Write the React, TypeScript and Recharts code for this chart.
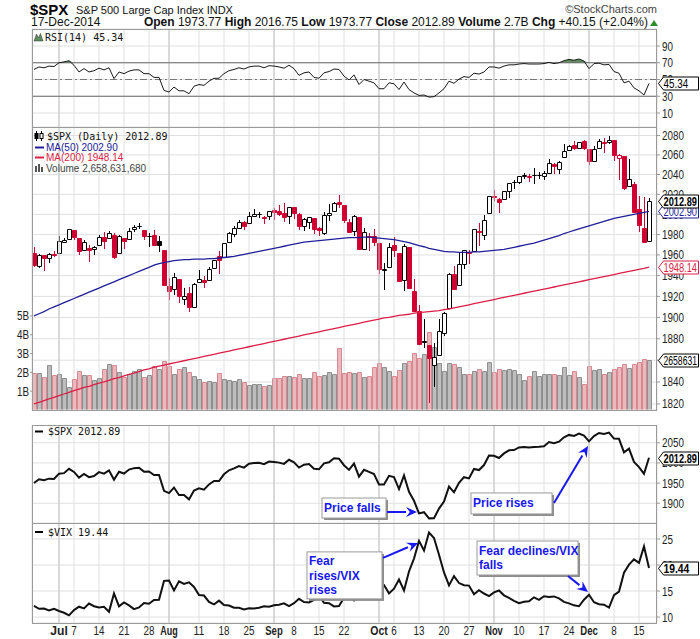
import React from 'react';
import {
  ComposedChart, Line, Bar, Area, XAxis, YAxis, CartesianGrid,
  ReferenceLine, ReferenceDot, Cell,
} from 'recharts';

// ---- data (24-Jun-2014 .. 17-Dec-2014) ----
const dates = [
  'Jun 24', 'Jun 25', 'Jun 26', 'Jun 27', 'Jun 30',
  'Jul 1', 'Jul 2', 'Jul 3', 'Jul 7', 'Jul 8', 'Jul 9', 'Jul 10', 'Jul 11', 'Jul 14', 'Jul 15', 'Jul 16',
  'Jul 17', 'Jul 18', 'Jul 21', 'Jul 22', 'Jul 23', 'Jul 24', 'Jul 25', 'Jul 28', 'Jul 29', 'Jul 30', 'Jul 31',
  'Aug 1', 'Aug 4', 'Aug 5', 'Aug 6', 'Aug 7', 'Aug 8', 'Aug 11', 'Aug 12', 'Aug 13', 'Aug 14', 'Aug 15',
  'Aug 18', 'Aug 19', 'Aug 20', 'Aug 21', 'Aug 22', 'Aug 25', 'Aug 26', 'Aug 27', 'Aug 28', 'Aug 29',
  'Sep 2', 'Sep 3', 'Sep 4', 'Sep 5', 'Sep 8', 'Sep 9', 'Sep 10', 'Sep 11', 'Sep 12', 'Sep 15', 'Sep 16',
  'Sep 17', 'Sep 18', 'Sep 19', 'Sep 22', 'Sep 23', 'Sep 24', 'Sep 25', 'Sep 26', 'Sep 29', 'Sep 30',
  'Oct 1', 'Oct 2', 'Oct 3', 'Oct 6', 'Oct 7', 'Oct 8', 'Oct 9', 'Oct 10', 'Oct 13', 'Oct 14', 'Oct 15',
  'Oct 16', 'Oct 17', 'Oct 20', 'Oct 21', 'Oct 22', 'Oct 23', 'Oct 24', 'Oct 27', 'Oct 28', 'Oct 29', 'Oct 30', 'Oct 31',
  'Nov 3', 'Nov 4', 'Nov 5', 'Nov 6', 'Nov 7', 'Nov 10', 'Nov 11', 'Nov 12', 'Nov 13', 'Nov 14', 'Nov 17',
  'Nov 18', 'Nov 19', 'Nov 20', 'Nov 21', 'Nov 24', 'Nov 25', 'Nov 26', 'Nov 28',
  'Dec 1', 'Dec 2', 'Dec 3', 'Dec 4', 'Dec 5', 'Dec 8', 'Dec 9', 'Dec 10', 'Dec 11', 'Dec 12', 'Dec 15', 'Dec 16', 'Dec 17',
];

const opens = [
  1961.97, 1949.27, 1959.89, 1956.56, 1960.79,
  1962.29, 1973.06, 1975.88, 1984.22, 1976.39, 1965.10, 1966.67, 1965.76, 1969.86, 1977.36, 1976.35, 1979.75, 1961.54, 1976.93, 1975.65, 1985.32, 1988.07, 1984.60, 1978.25, 1980.03, 1973.21, 1965.14,
  1929.80, 1926.62, 1936.34, 1917.29, 1923.03, 1910.35, 1933.43, 1935.73, 1935.60, 1947.41, 1958.87, 1958.36, 1972.73, 1980.46, 1986.82, 1992.60, 1991.74, 1998.59, 2000.54, 1997.42, 1998.45,
  2004.07, 2003.57, 2001.67, 1998.00, 2007.17, 2000.73, 1988.41, 1992.85, 1996.74, 1986.04, 1981.93, 1999.30, 2003.07, 2012.74, 2009.08, 1992.78, 1983.34, 1997.32, 1966.22, 1978.96, 1978.21,
  1971.44, 1945.83, 1948.12, 1970.01, 1962.36, 1935.55, 1967.68, 1925.63, 1905.65, 1877.11, 1874.18, 1855.95, 1864.91, 1885.62, 1909.38, 1941.29, 1931.02, 1951.59, 1962.97, 1964.14, 1983.29, 1979.49, 2001.20,
  2018.21, 2015.81, 2015.29, 2023.33, 2032.36, 2032.01, 2038.20, 2037.75, 2039.21, 2039.74, 2038.29, 2041.48, 2051.16, 2045.87, 2057.46, 2065.07, 2070.15, 2067.36, 2074.78,
  2065.78, 2053.77, 2067.45, 2073.64, 2072.78, 2074.84, 2056.55, 2058.86, 2027.92, 2030.36, 2005.03, 1986.71, 1973.77,
];

const highs = [
  1968.17, 1960.83, 1959.89, 1961.47, 1964.24,
  1978.58, 1976.67, 1985.59, 1984.22, 1976.39, 1974.15, 1969.84, 1968.67, 1979.85, 1982.52, 1983.94, 1981.80, 1979.91, 1976.93, 1986.24, 1989.23, 1991.39, 1984.60, 1981.52, 1984.85, 1978.90, 1965.14,
  1937.35, 1942.92, 1936.34, 1927.91, 1928.89, 1932.38, 1944.90, 1939.65, 1948.41, 1955.23, 1964.04, 1971.99, 1982.57, 1988.57, 1994.76, 1993.54, 2001.95, 2005.04, 2002.14, 1998.55, 2003.38,
  2006.12, 2009.28, 2011.17, 2007.71, 2007.17, 2001.01, 1996.66, 1997.65, 1996.74, 1987.18, 2002.28, 2010.74, 2012.34, 2019.26, 2009.08, 1995.41, 1999.79, 1997.32, 1986.37, 1981.28, 1985.17,
  1971.44, 1952.32, 1971.19, 1977.84, 1962.36, 1970.36, 1967.68, 1936.98, 1912.09, 1898.71, 1874.18, 1876.01, 1898.16, 1905.03, 1942.45, 1949.31, 1961.95, 1965.27, 1964.64, 1985.05, 1991.40, 1999.40, 2018.19,
  2024.46, 2015.98, 2023.77, 2031.61, 2034.26, 2038.70, 2041.28, 2040.33, 2046.18, 2042.22, 2043.07, 2056.08, 2052.14, 2053.84, 2071.46, 2070.17, 2074.21, 2073.29, 2075.76,
  2065.78, 2068.77, 2076.28, 2077.34, 2079.47, 2075.78, 2060.60, 2058.86, 2055.53, 2032.25, 2018.69, 2016.89, 2016.75,
];

const lows = [
  1948.34, 1947.49, 1944.69, 1952.18, 1958.22,
  1962.29, 1972.58, 1975.88, 1974.88, 1959.46, 1965.10, 1952.86, 1959.63, 1969.86, 1965.34, 1975.67, 1955.59, 1960.82, 1965.77, 1975.65, 1982.44, 1985.79, 1974.37, 1967.31, 1969.95, 1962.42, 1930.67,
  1916.37, 1921.20, 1913.77, 1911.45, 1904.78, 1909.01, 1933.43, 1928.29, 1935.60, 1947.41, 1941.50, 1958.36, 1972.73, 1977.68, 1986.82, 1984.76, 1991.74, 1998.59, 1996.20, 1990.52, 1994.65,
  1994.85, 1998.14, 1992.54, 1990.10, 1995.60, 1984.61, 1982.99, 1985.93, 1980.26, 1978.48, 1979.06, 1993.29, 2003.07, 2006.59, 1991.01, 1982.77, 1978.63, 1965.99, 1966.22, 1964.04, 1968.96,
  1941.72, 1926.03, 1948.12, 1958.43, 1935.10, 1925.25, 1927.56, 1906.05, 1874.14, 1871.79, 1820.66, 1835.02, 1864.91, 1882.30, 1909.38, 1926.83, 1931.02, 1946.27, 1951.37, 1964.14, 1969.04, 1974.75, 2001.20,
  2013.68, 2001.01, 2014.26, 2015.86, 2025.07, 2030.17, 2035.28, 2031.95, 2030.44, 2035.20, 2034.46, 2041.48, 2040.37, 2040.49, 2056.75, 2065.07, 2064.75, 2066.62, 2065.06,
  2049.57, 2053.77, 2066.65, 2062.34, 2070.81, 2054.27, 2034.17, 2024.26, 2027.92, 2002.33, 1982.26, 1972.56, 1973.77,
];

const closes = [
  1949.98, 1959.53, 1957.22, 1960.96, 1960.23,
  1973.32, 1974.62, 1985.44, 1977.65, 1963.71, 1972.83, 1964.68, 1967.57, 1977.10, 1973.28, 1981.57, 1958.12, 1978.22, 1973.63, 1983.53, 1987.01, 1987.98, 1978.34, 1978.91, 1969.95, 1970.07, 1930.67,
  1925.15, 1938.99, 1920.21, 1920.24, 1909.57, 1931.59, 1936.92, 1933.75, 1946.72, 1955.18, 1955.06, 1971.74, 1981.60, 1986.51, 1992.37, 1988.40, 1997.92, 2000.02, 2000.12, 1996.74, 2003.37,
  2002.28, 2000.72, 1997.65, 2007.71, 2001.54, 1988.44, 1995.69, 1997.45, 1985.54, 1984.13, 1998.98, 2001.57, 2011.36, 2010.40, 1994.29, 1982.77, 1998.30, 1965.99, 1982.85, 1977.80, 1972.29,
  1946.16, 1946.17, 1967.90, 1964.82, 1935.10, 1968.89, 1928.21, 1906.13, 1874.74, 1877.70, 1862.49, 1862.76, 1886.76, 1904.01, 1941.28, 1927.11, 1950.82, 1964.58, 1961.63, 1985.05, 1982.30, 1994.65, 2018.05,
  2017.81, 2012.10, 2023.57, 2031.21, 2031.92, 2038.26, 2039.68, 2038.25, 2039.33, 2039.82, 2041.32, 2051.80, 2048.72, 2052.75, 2063.50, 2069.41, 2067.03, 2072.83, 2067.56,
  2053.44, 2066.55, 2074.33, 2071.92, 2075.37, 2060.31, 2059.82, 2026.14, 2035.33, 2002.33, 1989.63, 1972.74, 2012.89,
];
const prevClose = 1962.61; // 23-Jun close, colours the first candle

// volume, billions of shares
const volumes = [
  1.98, 1.95, 1.74, 2.38, 1.85,
  1.9, 1.69, 1.21, 1.63, 2.07, 1.85, 1.85, 1.6, 1.69, 2.16, 2.43, 2.38, 2.04, 1.77, 1.91, 2.09, 2.16, 1.74, 1.86, 2.34, 2.18, 2.59,
  2.34, 1.91, 2.18, 2.29, 2.02, 1.81, 1.63, 1.5, 1.56, 1.49, 1.95, 1.65, 1.6, 1.54, 1.63, 1.49, 1.31, 1.37, 1.37, 1.28, 1.33,
  1.69, 1.69, 1.81, 1.8, 1.76, 1.91, 1.72, 1.69, 2.04, 1.81, 1.86, 2.02, 1.91, 3.28, 1.95, 2.02, 1.95, 2.0, 1.74, 1.8, 2.27,
  2.5, 2.3, 2.07, 1.82, 2.15, 2.5, 2.6, 3.05, 2.74, 2.99, 4.13, 3.37, 2.5, 2.1, 2.5, 2.45, 2.3, 1.9, 1.9, 2.1, 2.2, 2.1, 2.55,
  2.0, 2.2, 2.15, 2.2, 2.15, 1.9, 1.6, 1.82, 2.07, 1.8, 1.9, 1.9, 1.9, 1.85, 2.27, 1.85, 2.07, 1.74, 1.4,
  2.34, 2.15, 2.2, 1.9, 2.0, 2.16, 2.27, 2.45, 2.22, 2.45, 2.57, 2.71, 2.6586,
];

const ma50 = [
  1901.5, 1903.5, 1905.5, 1908, 1910,
  1912, 1914, 1916, 1918, 1920, 1922, 1924, 1926, 1928, 1930, 1932, 1934, 1936, 1938, 1940, 1942, 1944, 1946, 1948, 1950, 1951.5, 1952.5,
  1953.5, 1954.5, 1955, 1955.5, 1955.5, 1956, 1956, 1956, 1956.5, 1956.5, 1957, 1957.5, 1958, 1958.5, 1959.5, 1960.5, 1961.5, 1962.5, 1963.5, 1964.5, 1965.5,
  1966.5, 1967.5, 1968.5, 1969.5, 1970.5, 1971.5, 1972.5, 1973, 1973.5, 1974, 1974.5, 1975, 1975.5, 1976, 1976.5, 1977, 1977, 1977, 1977.5, 1977.5, 1977,
  1976.5, 1976, 1975.5, 1975, 1974, 1973, 1972, 1970.5, 1969, 1968, 1966.5, 1965.5, 1964.5, 1963.5, 1963, 1963, 1962.5, 1962.5, 1962.5, 1963, 1963, 1963.5, 1964,
  1964.5, 1965, 1965.5, 1966.5, 1967.5, 1968.5, 1969.5, 1970.5, 1971.5, 1973, 1974.5, 1976, 1977.5, 1979, 1981, 1982.5, 1984, 1985.5, 1987,
  1988.5, 1990, 1991.5, 1993, 1994.5, 1996, 1997, 1998, 1999, 2000, 2001, 2002, 2002.90,
];

const ma200 = [
  1820, 1821.5, 1823, 1824.5, 1826,
  1827.5, 1829, 1830.5, 1832, 1833.5, 1835, 1836, 1837.5, 1839, 1840, 1841.5, 1843, 1844, 1845.5, 1847, 1848, 1849.5, 1851, 1852, 1853.5, 1854.5, 1855.5,
  1856.5, 1857.5, 1858.5, 1859.5, 1860.5, 1861.5, 1862.5, 1863.5, 1864.5, 1865.5, 1866.5, 1867.5, 1868.5, 1869.5, 1870.5, 1871.5, 1872.5, 1873.5, 1874.5, 1875.5, 1876.5,
  1877.5, 1878.5, 1879.5, 1880.5, 1881.5, 1882.5, 1883.5, 1884.5, 1885.5, 1886.5, 1887.5, 1888.5, 1889.5, 1890.5, 1891.5, 1892.5, 1893.5, 1894.5, 1895.5, 1896.5, 1897.5,
  1898.5, 1899.5, 1900, 1901, 1902, 1902.5, 1903, 1904, 1904.5, 1905, 1905.5, 1906, 1906.5, 1907.5, 1908, 1909, 1910, 1911, 1912, 1913, 1914, 1915, 1916,
  1917, 1918, 1919, 1920, 1921, 1922, 1923, 1924, 1925, 1926, 1927, 1928, 1929, 1930, 1931, 1932, 1933, 1934, 1935,
  1936, 1937, 1938, 1939, 1940, 1941, 1942, 1943, 1944, 1945, 1946, 1947, 1948.14,
];

const rsi14 = [
  62, 65, 64, 66, 65.5,
  70, 71, 72.5, 67, 59, 63, 59, 60.5, 63.5, 61.5, 64, 51, 59, 57, 60, 61.5, 61.5, 57, 57, 52.5, 52.5, 37,
  35, 41, 36.5, 36.5, 33, 42, 44, 43, 48, 51.5, 51.5, 57, 60.5, 62, 64, 62.5, 65, 66, 66, 64, 66.5,
  66, 65, 63.5, 67, 63, 55, 58, 59, 52.5, 51.5, 58, 59.5, 62.5, 62, 54, 49.5, 55.5, 44, 50, 48, 46,
  39, 39, 46, 45, 38, 47, 38, 34, 31, 31.5, 29, 29.5, 34, 39, 48, 45.5, 50.5, 53.5, 52.5, 57.5, 56.5, 59, 65,
  65, 63.5, 66, 67.5, 67.5, 68.5, 69, 68.5, 68.5, 68.5, 69, 70.5, 69, 70, 72.5, 74, 73, 74.5, 72,
  63, 69, 69.5, 67.5, 68, 59.5, 57.5, 46, 48, 40, 36.5, 31.5, 45.34,
];

const vix = [
  12.13, 11.59, 11.63, 11.26, 11.57,
  11.15, 10.82, 10.32, 11.33, 11.98, 11.65, 12.59, 12.08, 11.82, 11.96, 11.00, 14.54, 12.06, 12.81, 12.24, 11.52, 11.84, 12.69, 12.56, 13.28, 13.33, 16.95,
  17.03, 15.12, 16.87, 16.37, 16.66, 15.77, 14.23, 14.13, 12.90, 12.42, 13.15, 12.32, 12.21, 11.78, 11.76, 11.47, 11.70, 11.63, 11.78, 12.05, 11.98,
  12.25, 12.36, 12.64, 12.09, 12.66, 13.50, 12.88, 12.80, 13.31, 14.12, 12.73, 12.65, 12.03, 12.11, 13.69, 14.93, 13.27, 15.64, 14.85, 15.98, 16.31,
  16.71, 16.16, 14.55, 15.46, 17.20, 15.11, 18.76, 21.24, 24.64, 22.79, 26.25, 25.20, 21.99, 18.57, 16.08, 17.87, 16.53, 16.11, 16.04, 14.39, 15.15, 14.52, 14.03,
  14.73, 15.10, 14.17, 13.67, 13.12, 12.67, 12.92, 13.02, 13.79, 13.31, 13.99, 13.86, 13.96, 13.58, 12.90, 12.62, 12.25, 12.07, 13.33,
  14.29, 12.85, 12.47, 12.38, 11.82, 14.21, 14.89, 18.53, 20.08, 21.08, 20.42, 23.57, 19.44,
];

// x-axis ticks (index into the arrays above)
const tickDays = [5, 8, 13, 18, 23, 27, 33, 38, 43, 48, 52, 57, 62, 69, 72, 77, 82, 87, 92, 97, 102, 107, 111, 116, 121];
const tickLabels = ['Jul', '7', '14', '21', '28', 'Aug', '11', '18', '25', 'Sep', '8', '15', '22', 'Oct', '6', '13', '20', '27', 'Nov', '10', '17', '24', 'Dec', '8', '15'];
const monthDays = [5, 27, 48, 69, 92, 111];

const priceTicks = [1820, 1840, 1860, 1880, 1900, 1920, 1940, 1960, 1980, 2000, 2020, 2040, 2060, 2080];
const volTicks = [1, 2, 3, 4, 5];
const rsiTicks = [10, 30, 50, 70, 90];
const spxTicks = [1900, 1950, 2000, 2050];
const vixTicks = [10, 15, 20, 25];

// annotation anchors
const fallDay = 77; // 13-Oct
const riseDay = 111; // 1-Dec

const rows = closes.map((c, k) => ({
  k,
  date: dates[k],
  open: opens[k],
  high: highs[k],
  low: lows[k],
  close: c,
  vol: volumes[k],
  ma50: ma50[k],
  ma200: ma200[k],
  rsi: rsi14[k],
  vix: vix[k],
  up: c >= (k === 0 ? prevClose : closes[k - 1]),
}));
const last = rows[rows.length - 1];

// ---- styles ----
const X_DOMAIN: [number, number] = [-0.4, 124.6];
const AX = "'Liberation Sans', Arial, sans-serif";
const SANS = "'Liberation Sans', Arial, sans-serif";
const MONO = "'DejaVu Sans Mono', monospace";
const RED = '#d10032';
const NAVY = '#20209a';
const MA_RED = '#dc1e46';
const GRID = '#e0e0e0';
const MONTH = '#c4c4c4';
const BORDER = '#9a9a9a';
const BLUE = '#1818f0';

// the chart's axis font is a narrow face; squeeze Liberation Sans to that width
const narrowWidth = (s: string, size: number, bold = false) => {
  let w = 0;
  for (const ch of s) {
    if (/[0-9]/.test(ch)) w += 0.456;
    else if ('.,: '.includes(ch)) w += 0.228;
    else if (/[A-Z]/.test(ch)) w += 0.55;
    else if (/[a-z]/.test(ch)) w += 0.42;
    else w += 0.35;
  }
  return w * size * (bold ? 1.05 : 1);
};

const NText = ({ x, y, s, size = 12, bold = false, fill = '#222', anchor = 'start', maxW = 999 }: any) => (
  <text x={x} y={y} fontSize={size} fontFamily={AX} fill={fill} fontWeight={bold ? 'bold' : 'normal'}
    textAnchor={anchor} textLength={Math.min(maxW, narrowWidth(s, size, bold))} lengthAdjust="spacingAndGlyphs">
    {s}
  </text>
);

const RightTick = (p: any) => <NText x={p.x} y={p.y + 4.5} s={String(p.payload.value)} />;
const LeftTick = (p: any) => <NText x={p.x} y={p.y + 4.5} s={`${p.payload.value}B`} anchor="end" />;
const BottomTick = (p: any) => {
  const idx = tickDays.indexOf(p.payload.value);
  const bold = monthDays.includes(p.payload.value);
  return <NText x={p.x} y={p.y + 12} s={tickLabels[idx]} bold={bold} anchor="middle" />;
};

const Candle = (props: any) => {
  const { x, y, width, height, payload } = props;
  if (x == null || !payload) return null;
  const { open, high, low, close, up } = payload;
  const lh = Math.log(high);
  const ll = Math.log(low);
  const py = (v: number) => y + ((lh - Math.log(v)) / (lh - ll)) * height;
  const color = up ? '#000' : RED;
  const c = Math.round(x + width / 2);
  const t = Math.round(py(Math.max(open, close))) + 0.5;
  const b = Math.round(py(Math.min(open, close))) + 0.5;
  const hollow = close >= open;
  return (
    <g>
      <line x1={c + 0.5} x2={c + 0.5} y1={Math.round(y)} y2={Math.round(y + height)} stroke={color} strokeWidth={1} />
      <path d={`M${c - 1.5},${t}H${c + 2.5}V${b}H${c - 1.5}Z`} fill={hollow ? '#fff' : color} stroke={color} strokeWidth={1} />
    </g>
  );
};

const VolBar = (props: any) => {
  const { x, y, width, height, payload } = props;
  if (x == null || !payload) return null;
  const c = Math.round(x + width / 2);
  const top = Math.round(y) + 0.5;
  const bot = Math.round(y + height) - 0.5;
  return (
    <path
      d={`M${c - 1.5},${bot}V${top}H${c + 2.5}V${bot}`}
      fill={payload.up ? '#bdbdbd' : '#e9b9be'}
      stroke={payload.up ? '#8f8f8f' : '#d98892'}
      strokeWidth={1}
    />
  );
};

const tag = (text: string, color: string, bold: boolean) => (p: any) => {
  const vb = p.viewBox || {};
  const x0 = Math.round((vb.x || 0) + (vb.width || 0) / 2) + 1.5;
  const y = Math.round((vb.y || 0) + (vb.height || 0) / 2) + 0.5;
  return (
    <g>
      <path d={`M${x0},${y}L${x0 + 5},${y - 6.5}H${x0 + 40}V${y + 6.5}H${x0 + 5}Z`} fill="#fff" stroke={color} strokeWidth={1} />
      <NText x={x0 + 5} y={y + 4.5} s={text} bold={bold} fill={color} size={12} maxW={33.5} />
    </g>
  );
};

type CalloutSpec = {
  box: [number, number, number, number];
  lines: { t: string; dy: number }[];
  tx: number;
  from: [number, number];
  tip: [number, number];
};

const callout = (s: CalloutSpec) => (p: any) => {
  const { cx, cy } = p;
  if (cx == null) return null;
  const [x1, y1, x2, y2] = s.box;
  const ax = cx + s.from[0];
  const ay = cy + s.from[1];
  const bx = cx + s.tip[0];
  const by = cy + s.tip[1];
  const ang = Math.atan2(by - ay, bx - ax);
  const hl = 11;
  const hw = 5;
  const baseX = bx - hl * Math.cos(ang);
  const baseY = by - hl * Math.sin(ang);
  const px = -Math.sin(ang) * hw;
  const py = Math.cos(ang) * hw;
  return (
    <g>
      <rect x={cx + x1 + 2} y={cy + y1 + 2} width={x2 - x1} height={y2 - y1} fill="#8c8c8c" />
      <rect x={cx + x1} y={cy + y1} width={x2 - x1} height={y2 - y1} fill="#fff" stroke="#9a9a9a" strokeWidth={1} />
      {s.lines.map((l) => (
        <text key={l.t} x={cx + s.tx} y={cy + l.dy} fontSize={12} fontFamily={SANS} fontWeight="bold" fill={BLUE}>{l.t}</text>
      ))}
      <line x1={ax} y1={ay} x2={baseX} y2={baseY} stroke={BLUE} strokeWidth={2} />
      <path d={`M${bx},${by}L${baseX + px},${baseY + py}L${baseX + 0.35 * hl * Math.cos(ang)},${baseY + 0.35 * hl * Math.sin(ang)}L${baseX - px},${baseY - py}Z`} fill={BLUE} />
    </g>
  );
};

const monthLines = (xId: any, yId: any) =>
  monthDays.map((m) => <ReferenceLine key={`m${m}`} x={m} xAxisId={xId} yAxisId={yId} stroke={MONTH} />);

const fmtVol = (v: number) => Math.round(v * 1e9).toLocaleString('en-US');

const TagDot = (props: any) => (
  <ReferenceDot r={0} fill="none" stroke="none" ifOverflow="visible" zIndex={2000} {...props} />
);

export default function App() {
  return (
    <div style={{ position: 'absolute', left: 0, top: 0, width: 700, height: 639, background: '#fff', overflow: 'hidden' }}>
      {/* RSI */}
      <div style={{ position: 'absolute', left: 0, top: 28 }}>
        <ComposedChart width={700} height={100} data={rows} margin={{ top: 1, right: 0, bottom: 1, left: 32 }}>
          <XAxis dataKey="k" type="number" domain={X_DOMAIN} ticks={tickDays} interval={0} hide allowDataOverflow />
          <YAxis yAxisId="r" orientation="right" width={43} domain={[-6.7, 110.3]} ticks={rsiTicks} interval={0}
            allowDataOverflow axisLine={false} tickSize={3} tickLine={{ stroke: '#999' }} tick={<RightTick />} />
          <CartesianGrid yAxisId="r" stroke={GRID} />
          {monthLines(0, 'r')}
          <ReferenceLine yAxisId="r" y={70} stroke="#6a6a6a" />
          <ReferenceLine yAxisId="r" y={30} stroke="#6a6a6a" />
          <ReferenceLine yAxisId="r" y={50} stroke="#777" strokeDasharray="7 3 2 3" />
          <Area yAxisId="r" dataKey={(d: any) => [70, Math.max(70, d.rsi)]} fill="#5e8e5e" fillOpacity={1} stroke="none" isAnimationActive={false} />
          <Line yAxisId="r" dataKey="rsi" stroke="#1a1a1a" strokeWidth={1} dot={false} isAnimationActive={false} />
          {TagDot({ yAxisId: 'r', x: X_DOMAIN[1], y: last.rsi, label: tag(last.rsi.toFixed(2), '#000', false) })}
        </ComposedChart>
      </div>

      {/* price + volume */}
      <div style={{ position: 'absolute', left: 0, top: 127 }}>
        <ComposedChart width={700} height={298} data={rows} margin={{ top: 0, right: 0, bottom: 0, left: 0 }}>
          <XAxis xAxisId="x" dataKey="k" type="number" domain={X_DOMAIN} ticks={tickDays} interval={0} height={15}
            tickSize={0} tickMargin={0} axisLine={false} tickLine={false} tick={<BottomTick />} allowDataOverflow />
          <XAxis xAxisId="c" dataKey="k" type="number" domain={X_DOMAIN} hide allowDataOverflow />
          <YAxis yAxisId="vol" orientation="left" width={32} domain={[0, 15.05]} ticks={volTicks} interval={0}
            allowDataOverflow axisLine={false} tickSize={2} tickMargin={1} tickLine={{ stroke: '#999' }} tick={<LeftTick />} />
          <YAxis yAxisId="p" orientation="right" width={43} scale="log" domain={[1814.5, 2088.8]} ticks={priceTicks} interval={0}
            allowDataOverflow axisLine={false} tickSize={3} tickLine={{ stroke: '#999' }} tick={<RightTick />} />
          <CartesianGrid xAxisId="x" yAxisId="p" stroke={GRID} />
          {monthLines('x', 'p')}
          <Bar xAxisId="x" yAxisId="vol" dataKey="vol" barSize={5} shape={VolBar} isAnimationActive={false}>
            {rows.map((r) => <Cell key={r.k} fill={r.up ? '#bdbdbd' : '#e9b9be'} />)}
          </Bar>
          <Line xAxisId="x" yAxisId="p" dataKey="ma200" stroke={MA_RED} strokeWidth={1.3} dot={false} isAnimationActive={false} />
          <Bar xAxisId="c" yAxisId="p" dataKey={(d: any) => [d.low, d.high]} barSize={5} shape={Candle} isAnimationActive={false} />
          <Line xAxisId="x" yAxisId="p" dataKey="ma50" stroke={NAVY} strokeWidth={1.3} dot={false} isAnimationActive={false} />
          {TagDot({ xAxisId: 'x', yAxisId: 'p', x: X_DOMAIN[1], y: last.ma200, label: tag(last.ma200.toFixed(2), MA_RED, false) })}
          {TagDot({ xAxisId: 'x', yAxisId: 'vol', x: X_DOMAIN[1], y: last.vol, label: tag('2658631', '#000', false) })}
          {TagDot({ xAxisId: 'x', yAxisId: 'p', x: X_DOMAIN[1], y: last.ma50, label: tag(last.ma50.toFixed(2), NAVY, false) })}
          {TagDot({ xAxisId: 'x', yAxisId: 'p', x: X_DOMAIN[1], y: last.close, label: tag(last.close.toFixed(2), '#000', true) })}
        </ComposedChart>
      </div>

      {/* $SPX close line */}
      <div style={{ position: 'absolute', left: 0, top: 425 }}>
        <ComposedChart width={700} height={98} data={rows} margin={{ top: 0, right: 0, bottom: 0, left: 32 }}>
          <XAxis dataKey="k" type="number" domain={X_DOMAIN} ticks={tickDays} interval={0} hide allowDataOverflow />
          <YAxis yAxisId="s" orientation="right" width={43} domain={[1851, 2094]} ticks={spxTicks} interval={0}
            allowDataOverflow axisLine={false} tickSize={3} tickLine={{ stroke: '#999' }} tick={<RightTick />} />
          <CartesianGrid yAxisId="s" stroke={GRID} />
          {monthLines(0, 's')}
          <Line yAxisId="s" dataKey="close" stroke="#111" strokeWidth={2} dot={false} isAnimationActive={false} />
          <ReferenceDot yAxisId="s" x={fallDay} y={closes[fallDay]} r={0} ifOverflow="visible"
            shape={callout({ box: [-97, -15.4, -33, 4.6], lines: [{ t: 'Price falls', dy: -1.5 }], tx: -95, from: [-32, -1.4], tip: [-2, -1.4] })} />
          <ReferenceDot yAxisId="s" x={riseDay} y={closes[riseDay]} r={0} ifOverflow="visible"
            shape={callout({ box: [-118, 51.6, -37, 72.6], lines: [{ t: 'Price rises', dy: 66 }], tx: -116, from: [-35, 61.6], tip: [-1, 4.6] })} />
          {TagDot({ yAxisId: 's', x: X_DOMAIN[1], y: last.close, label: tag(last.close.toFixed(2), '#000', true) })}
        </ComposedChart>
      </div>

      {/* $VIX */}
      <div style={{ position: 'absolute', left: 0, top: 523 }}>
        <ComposedChart width={700} height={116} data={rows} margin={{ top: 0, right: 0, bottom: 0, left: 32 }}>
          <XAxis dataKey="k" type="number" domain={X_DOMAIN} ticks={tickDays} interval={0} height={16}
            tickSize={0} tickMargin={0} axisLine={false} tickLine={false} tick={<BottomTick />} allowDataOverflow />
          <YAxis yAxisId="v" orientation="right" width={43} domain={[8.85, 28.08]} ticks={vixTicks} interval={0}
            allowDataOverflow axisLine={false} tickSize={3} tickLine={{ stroke: '#999' }} tick={<RightTick />} />
          <CartesianGrid yAxisId="v" stroke={GRID} />
          {monthLines(0, 'v')}
          <Line yAxisId="v" dataKey="vix" stroke="#111" strokeWidth={2} dot={false} isAnimationActive={false} />
          <ReferenceDot yAxisId="v" x={fallDay} y={vix[fallDay]} r={0} ifOverflow="visible"
            shape={callout({ box: [-112, 11, -37, 58], lines: [{ t: 'Fear', dy: 24 }, { t: 'rises/VIX', dy: 39 }, { t: 'rises', dy: 53 }], tx: -110, from: [-36, 17], tip: [-1, 2] })} />
          <ReferenceDot yAxisId="v" x={riseDay} y={vix[riseDay]} r={0} ifOverflow="visible"
            shape={callout({ box: [-112, -53.7, -11, -19.7], lines: [{ t: 'Fear declines/VIX', dy: -39.7 }, { t: 'falls', dy: -25.7 }], tx: -110, from: [-21, -18.7], tip: [-1, -2.7] })} />
          {TagDot({ yAxisId: 'v', x: X_DOMAIN[1], y: last.vix, label: tag(last.vix.toFixed(2), '#000', true) })}
        </ComposedChart>
      </div>

      {/* header, panel frames and legends */}
      <svg width={700} height={639} style={{ position: 'absolute', left: 0, top: 0, pointerEvents: 'none' }}>
        <text x={30} y={15} fontFamily={SANS} fontWeight="bold" fontSize={15} fill="#000">$SPX</text>
        <text x={76} y={14} fontFamily={AX} fontSize={11} fill="#111">{'S&P 500 Large Cap Index  INDX'}</text>
        <text x={657} y={13} fontFamily={SANS} fontSize={11} fill="#444" textAnchor="end">©StockCharts.com</text>
        <text x={31} y={26} fontFamily={AX} fontSize={12} fill="#111">17-Dec-2014</text>
        <text x={648} y={26} fontFamily={AX} fontSize={12} fill="#111" textAnchor="end">
          <tspan fontWeight="bold">Open</tspan>{' 1973.77  '}
          <tspan fontWeight="bold">High</tspan>{' 2016.75  '}
          <tspan fontWeight="bold">Low</tspan>{' 1973.77  '}
          <tspan fontWeight="bold">Close</tspan>{' 2012.89  '}
          <tspan fontWeight="bold">Volume</tspan>{' 2.7B  '}
          <tspan fontWeight="bold">Chg</tspan>{' +40.15 (+2.04%)'}
        </text>
        <path d="M650,26 L654,20 L658,26 Z" fill="#2e8b2e" />

        <g fill="none" stroke={BORDER} strokeWidth={1}>
          <rect x={32.5} y={29.5} width={624} height={98} />
          <rect x={32.5} y={127.5} width={624} height={283} />
          <rect x={32.5} y={425.5} width={624} height={98} />
          <rect x={32.5} y={523.5} width={624} height={100} />
        </g>

        <path d="M34,41 L36.5,34 L38.5,38 L40.5,33.5 L43,41 Z" fill="#5e8e5e" stroke="#333" strokeWidth={0.5} />
        <text x={45} y={40.5} fontFamily={MONO} fontSize={10} fill="#111">RSI(14) {last.rsi.toFixed(2)}</text>

        <g stroke="#000" strokeWidth={1}>
          <line x1={36.5} y1={131} x2={36.5} y2={141} />
          <rect x={35} y={133.5} width={3} height={5} fill="#000" />
          <line x1={41.5} y1={131} x2={41.5} y2={141} />
          <rect x={40} y={133.5} width={3} height={5} fill="#fff" />
        </g>
        <text x={47} y={140} fontFamily={MONO} fontSize={10} fill="#111">$SPX (Daily) {last.close.toFixed(2)}</text>
        <line x1={35} y1={147.5} x2={44} y2={147.5} stroke={NAVY} strokeWidth={2} />
        <text x={46} y={151} fontFamily={SANS} fontSize={10} fill={NAVY}>MA(50) {last.ma50.toFixed(2)}</text>
        <line x1={35} y1={157.5} x2={44} y2={157.5} stroke={MA_RED} strokeWidth={2} />
        <text x={46} y={161} fontFamily={SANS} fontSize={10} fill={MA_RED}>MA(200) {last.ma200.toFixed(2)}</text>
        <g fill="#555">
          <rect x={35} y={166} width={2} height={6} />
          <rect x={38} y={164} width={2} height={8} />
          <rect x={41} y={167} width={2} height={5} />
        </g>
        <text x={46} y={172} fontFamily={SANS} fontSize={10} fill="#444">Volume {fmtVol(2.65863168)}</text>

        <line x1={35} y1={431.5} x2={43} y2={431.5} stroke="#000" strokeWidth={2} />
        <text x={48} y={435} fontFamily={MONO} fontSize={10} fill="#111">$SPX {last.close.toFixed(2)}</text>
        <line x1={35} y1={532} x2={43} y2={532} stroke="#000" strokeWidth={2} />
        <text x={48} y={535.5} fontFamily={MONO} fontSize={10} fill="#111">$VIX {last.vix.toFixed(2)}</text>
      </svg>
    </div>
  );
}
